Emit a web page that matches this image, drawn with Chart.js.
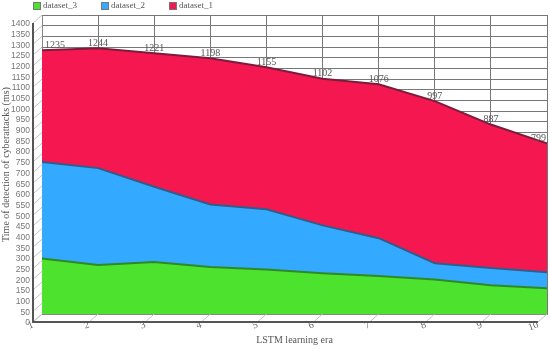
<!DOCTYPE html>
<html>
<head>
<meta charset="utf-8">
<script src="https://cdn.jsdelivr.net/npm/chart.js@4"></script>
<style>
  html, body { margin: 0; padding: 0; background: #fff; }
</style>
</head>
<body>
<canvas id="chart" width="550" height="349"></canvas>
<script>
// Detection time per LSTM learning era - stacked area, 3D-ish frame

const eras = ['1', '2', '3', '4', '5', '6', '7', '8', '9', '10'];
const dataset3 = [260, 230, 244, 220, 208, 191, 178, 162, 135, 120];
const dataset2 = [452, 453, 352, 293, 282, 224, 177, 76, 80, 76];
const dataset1 = [523, 561, 625, 685, 665, 687, 721, 759, 672, 603];
const totals = [1235, 1244, 1221, 1198, 1155, 1102, 1076, 997, 887, 799];
const yTicks = { min: 0, max: 1400, step: 50 };

const SERIF = '"Liberation Serif", "DejaVu Serif", serif';
const SANS = '"Liberation Sans", Arial, sans-serif';

// depth offset of the front axes relative to the back wall
const DX = -9, DY = 8;

// Front axes + hatching between front and back planes
const frame3d = {
    id: 'frame3d',
    beforeDatasetsDraw(chart) {
        const { ctx, chartArea: { left, right, top, bottom }, scales: { x, y } } = chart;
        ctx.save();
        ctx.strokeStyle = '#c4c4c4';
        ctx.lineWidth = 1;
        y.ticks.forEach(t => {
            const py = y.getPixelForValue(t.value);
            ctx.beginPath();
            ctx.moveTo(left + DX, py + DY);
            ctx.lineTo(left, py);
            ctx.stroke();
        });
        eras.forEach((e, i) => {
            const px = x.getPixelForValue(i);
            ctx.beginPath();
            ctx.moveTo(px + DX, bottom + DY);
            ctx.lineTo(px, bottom);
            ctx.stroke();
        });
        ctx.strokeStyle = '#555';
        ctx.lineWidth = 2;
        ctx.beginPath();
        ctx.moveTo(left + DX, y.getPixelForValue(yTicks.max) + DY);
        ctx.lineTo(left + DX, bottom + DY);
        ctx.lineTo(right + DX, bottom + DY);
        ctx.stroke();
        ctx.restore();
    }
};

// Total value above the top series
const totalLabels = {
    id: 'totalLabels',
    afterDatasetsDraw(chart) {
        const { ctx, chartArea: { left, right } } = chart;
        const meta = chart.getDatasetMeta(2);
        ctx.save();
        ctx.font = '10px ' + SERIF;
        ctx.fillStyle = '#555';
        ctx.textBaseline = 'middle';
        ctx.textAlign = 'left';
        meta.data.forEach((pt, i) => {
            const txt = String(totals[i]);
            const w = ctx.measureText(txt).width;
            let tx = pt.x - w / 2;
            if (tx < left + 3) tx = left + 3;
            if (tx + w > right - 1) tx = right - 1 - w;
            ctx.fillText(txt, tx, pt.y - 5);
        });
        ctx.restore();
    }
};

// Simple legend row at the top
const topLegend = {
    id: 'topLegend',
    afterDraw(chart) {
        const ctx = chart.ctx;
        let lx = 33;
        const ly = 2;
        ctx.save();
        ctx.font = '9px ' + SERIF;
        ctx.textBaseline = 'middle';
        chart.data.datasets.forEach(ds => {
            ctx.fillStyle = ds.backgroundColor;
            ctx.fillRect(lx, ly, 7, 7);
            ctx.strokeStyle = '#777';
            ctx.lineWidth = 1;
            ctx.strokeRect(lx + 0.5, ly + 0.5, 7, 7);
            ctx.fillStyle = '#555';
            ctx.fillText(ds.label, lx + 10, ly + 4);
            lx += 10 + ctx.measureText(ds.label).width + 24;
        });
        ctx.restore();
    }
};

const ctx = document.getElementById('chart').getContext('2d');
const chart = new Chart(ctx, {
    type: 'line',
    data: {
        labels: eras,
        datasets: [{
            label: 'dataset_3',
            data: dataset3,
            backgroundColor: '#4ce22e',
            borderColor: '#2f8a23',
            fill: 'origin'
        }, {
            label: 'dataset_2',
            data: dataset2,
            backgroundColor: '#33aaff',
            borderColor: '#2e5f8c',
            fill: '-1'
        }, {
            label: 'dataset_1',
            data: dataset1,
            backgroundColor: '#f5174f',
            borderColor: '#7c1c3c',
            fill: '-1'
        }]
    },
    options: {
        responsive: false,
        animation: false,
        devicePixelRatio: 1,
        layout: { padding: { top: 15, right: 3, left: 0, bottom: 0 } },
        elements: {
            point: { radius: 0 },
            line: { tension: 0, borderWidth: 2 }
        },
        plugins: {
            legend: { display: false },
            tooltip: { enabled: false }
        },
        scales: {
            x: {
                grid: { color: '#777', drawTicks: false },
                border: { color: '#888' },
                ticks: {
                    labelOffset: -9,
                    padding: 5,
                    minRotation: 20,
                    maxRotation: 20,
                    color: '#666',
                    font: { family: SERIF, size: 10 }
                },
                title: {
                    display: true,
                    text: 'LSTM learning era',
                    color: '#555',
                    font: { family: SERIF, size: 10 },
                    padding: { top: 0, bottom: 3 }
                },
                afterFit: s => {
                    s.height = 35;
                    s.paddingLeft = 0;
                    s.paddingRight = 0;
                }
            },
            y: {
                stacked: true,
                min: yTicks.min,
                max: yTicks.max,
                grid: { color: '#777', drawTicks: false },
                border: { color: '#888' },
                ticks: {
                    stepSize: yTicks.step,
                    autoSkip: false,
                    labelOffset: 9,
                    padding: 12,
                    color: '#777',
                    font: { family: SANS, size: 8.5 },
                    callback: v => String(v)
                },
                title: {
                    display: true,
                    text: 'Time of detection of cyberattacks (ms)',
                    color: '#555',
                    font: { family: SERIF, size: 10 },
                    padding: { top: 0, bottom: 0 }
                },
                afterFit: s => {
                    s.width = 42;
                    s.paddingTop = 0;
                    s.paddingBottom = 0;
                }
            }
        }
    },
    plugins: [frame3d, totalLabels, topLegend]
});
</script>
</body>
</html>
